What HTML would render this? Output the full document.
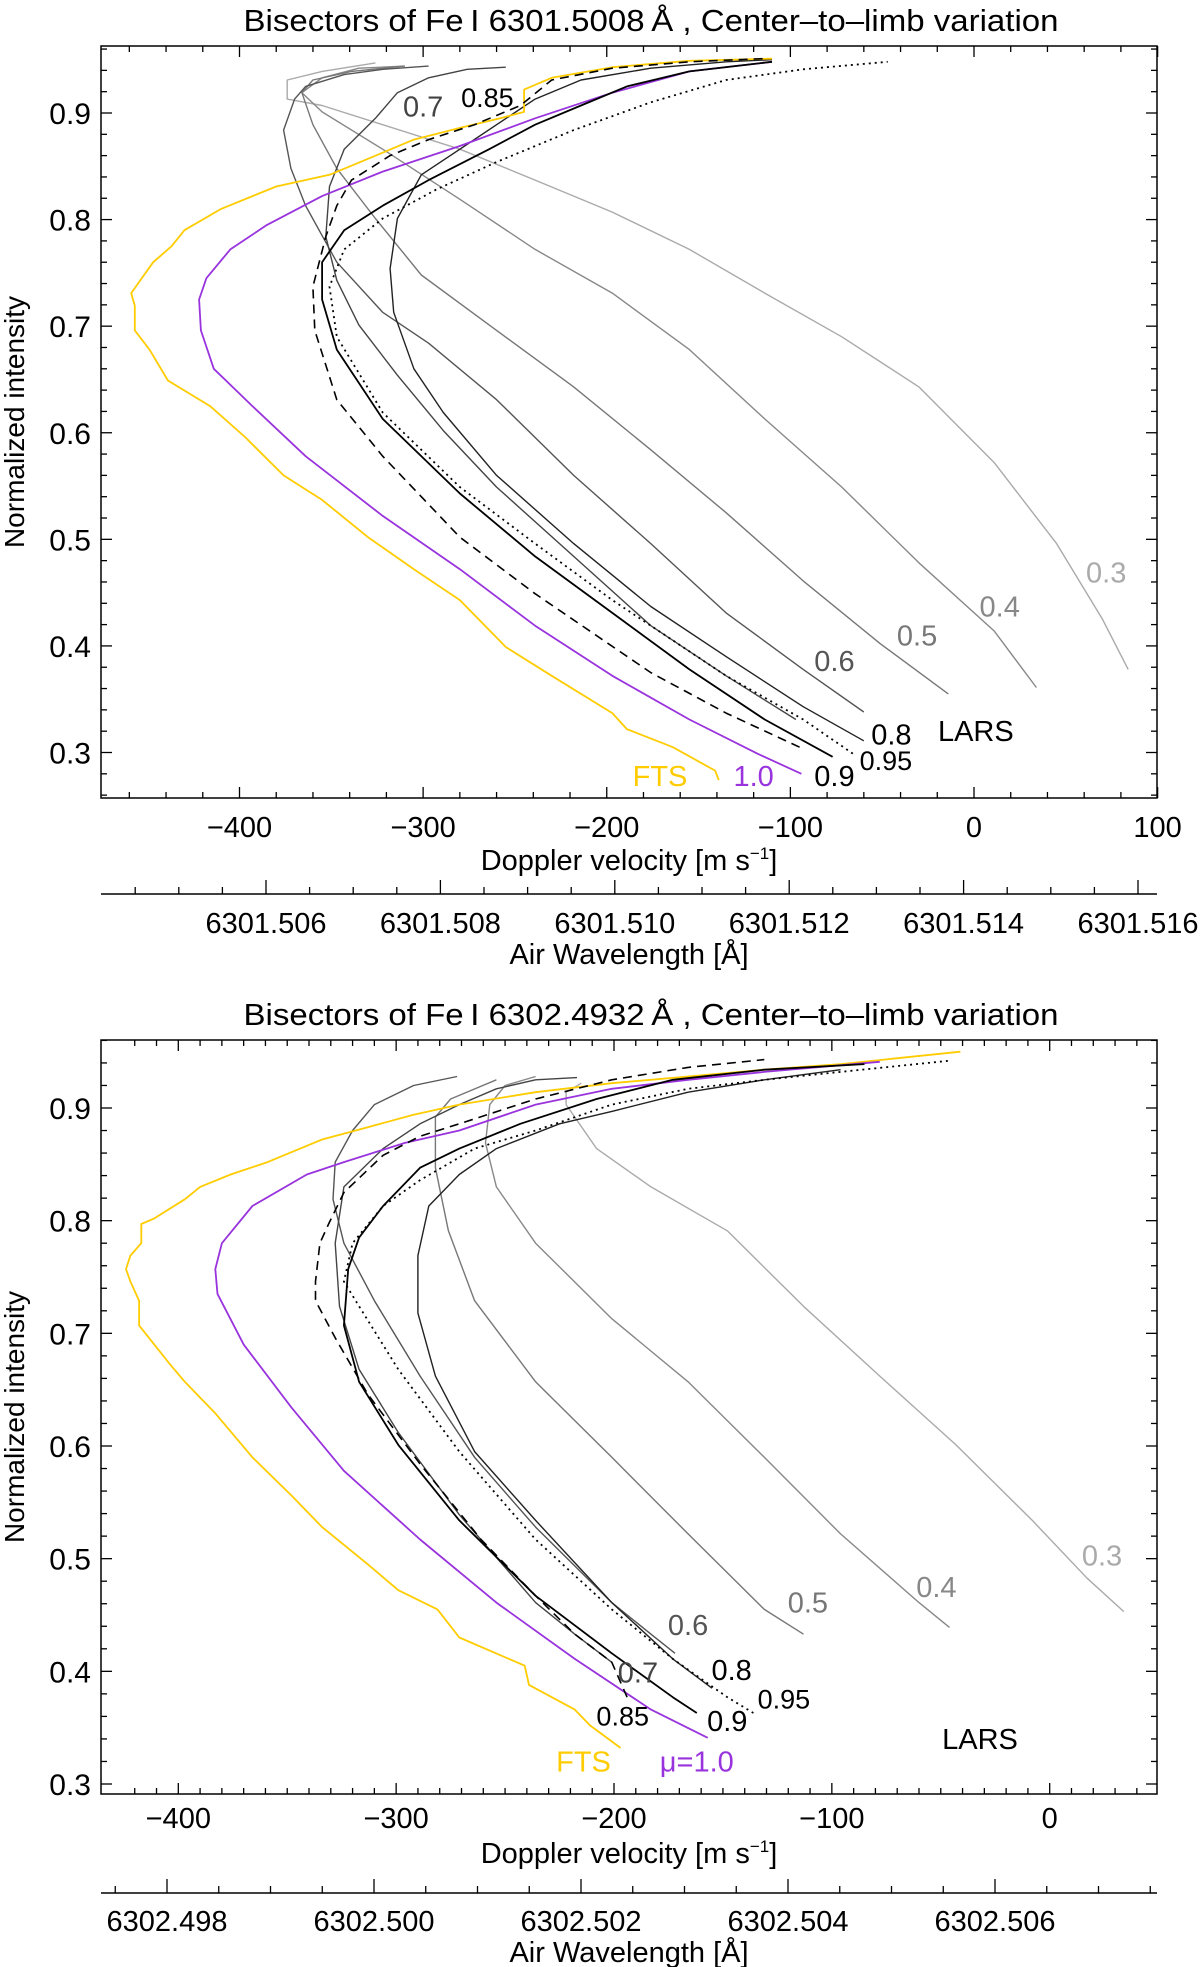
<!DOCTYPE html>
<html><head><meta charset="utf-8"><style>
html,body{margin:0;padding:0;background:#fff;}
svg{display:block;font-family:"Liberation Sans",sans-serif;}
</style></head>
<body>
<svg id="fig" width="1200" height="1967" viewBox="0 0 1200 1967" xmlns="http://www.w3.org/2000/svg"></svg>
<script>
// ===== Panel 1 data (Fe I 6301.5008) : [velocity m/s, normalized intensity]
const top_fts=[[-139,0.274],[-141,0.283],[-164,0.305],[-189,0.322],[-197,0.337],[-230,0.372],[-255,0.399],[-280,0.443],[-305,0.472],[-330,0.502],[-355,0.537],[-376,0.560],[-397,0.596],[-416,0.625],[-439,0.649],[-449,0.678],[-457,0.696],[-457,0.719],[-459,0.731],[-447,0.760],[-437,0.775],[-430,0.790],[-410,0.810],[-380,0.831],[-351,0.842],[-330,0.857],[-305,0.875],[-280,0.886],[-258,0.895],[-245,0.901],[-245,0.922],[-230,0.933],[-197,0.943],[-155,0.949],[-110,0.951]];
const top_mu10=[[-94,0.280],[-118,0.299],[-155,0.331],[-197,0.372],[-239,0.419],[-280,0.472],[-322,0.522],[-364,0.578],[-393,0.625],[-414,0.660],[-421,0.696],[-422,0.725],[-418,0.745],[-405,0.772],[-385,0.795],[-355,0.822],[-322,0.845],[-280,0.869],[-239,0.895],[-197,0.919],[-155,0.939],[-110,0.948]];
const top_mu085=[[-95,0.305],[-135,0.337],[-176,0.375],[-239,0.449],[-280,0.502],[-322,0.578],[-347,0.631],[-359,0.696],[-360,0.737],[-353,0.784],[-347,0.813],[-339,0.837],[-318,0.860],[-297,0.875],[-272,0.889],[-247,0.907],[-230,0.931],[-197,0.942],[-155,0.948],[-114,0.951]];
const top_mu09=[[-77,0.296],[-114,0.331],[-155,0.378],[-197,0.431],[-239,0.484],[-280,0.543],[-322,0.613],[-347,0.678],[-355,0.725],[-355,0.760],[-343,0.790],[-322,0.813],[-297,0.837],[-264,0.866],[-239,0.889],[-214,0.907],[-189,0.925],[-155,0.939],[-110,0.948]];
const top_mu095=[[-66,0.299],[-93,0.331],[-135,0.372],[-197,0.443],[-239,0.496],[-280,0.549],[-322,0.619],[-347,0.690],[-351,0.737],[-343,0.772],[-322,0.801],[-293,0.828],[-260,0.854],[-218,0.884],[-176,0.910],[-135,0.931],[-93,0.941],[-47,0.948]];
const top_mu08=[[-60,0.311],[-93,0.343],[-135,0.390],[-176,0.437],[-218,0.496],[-260,0.560],[-289,0.619],[-305,0.660],[-316,0.713],[-318,0.754],[-314,0.801],[-301,0.842],[-280,0.866],[-260,0.889],[-239,0.913],[-214,0.931],[-176,0.942],[-135,0.948],[-110,0.950]];
const top_mu07=[[-97,0.331],[-135,0.372],[-176,0.419],[-218,0.484],[-260,0.549],[-289,0.602],[-314,0.654],[-335,0.701],[-347,0.743],[-353,0.784],[-351,0.831],[-343,0.866],[-326,0.895],[-314,0.919],[-297,0.933],[-276,0.941],[-255,0.943]];
const top_mu06=[[-60,0.338],[-93,0.378],[-135,0.431],[-176,0.496],[-218,0.560],[-260,0.631],[-297,0.684],[-322,0.713],[-347,0.760],[-364,0.813],[-372,0.848],[-376,0.884],[-370,0.913],[-364,0.925],[-343,0.936],[-322,0.941],[-297,0.944]];
const top_mu05=[[-14,0.355],[-51,0.402],[-93,0.461],[-135,0.525],[-176,0.584],[-218,0.643],[-260,0.696],[-301,0.748],[-326,0.801],[-347,0.848],[-360,0.889],[-366,0.919],[-360,0.931],[-339,0.939],[-310,0.944]];
const top_mu04=[[34,0.361],[11,0.414],[-30,0.478],[-72,0.549],[-114,0.613],[-155,0.678],[-197,0.731],[-239,0.772],[-280,0.819],[-322,0.866],[-355,0.901],[-366,0.919],[-355,0.933],[-335,0.942],[-310,0.944]];
const top_mu03=[[84,0.378],[70,0.425],[45,0.496],[11,0.572],[-30,0.643],[-72,0.690],[-114,0.731],[-155,0.772],[-197,0.807],[-239,0.837],[-280,0.866],[-322,0.889],[-355,0.907],[-374,0.913],[-374,0.931],[-355,0.939],[-326,0.947]];
const top_labels=[["0.7",-300,0.906],["0.85",-265,0.915],["0.3",72,0.469],["0.4",14,0.437],["0.5",-31,0.410],["0.6",-76,0.386],["0.8",-45,0.317],["LARS",1,0.320],["0.95",-48,0.293],["0.9",-76,0.278],["1.0",-120,0.278],["FTS",-171,0.278]];
const top_vticks=[-400,-300,-200,-100,0,100];
const top_yticks=[0.3,0.4,0.5,0.6,0.7,0.8,0.9];
const top_wl_labels=["6301.506","6301.508","6301.510","6301.512","6301.514","6301.516"];

// ===== Panel 2 data (Fe I 6302.4932)
const bot_fts=[[-197,0.332],[-211,0.352],[-218,0.366],[-239,0.388],[-241,0.405],[-271,0.430],[-281,0.455],[-299,0.472],[-313,0.495],[-334,0.528],[-348,0.556],[-366,0.590],[-383,0.629],[-397,0.657],[-404,0.673],[-411,0.690],[-418,0.707],[-418,0.729],[-422,0.746],[-424,0.757],[-422,0.769],[-417,0.780],[-417,0.797],[-411,0.802],[-397,0.819],[-390,0.830],[-376,0.841],[-359,0.852],[-334,0.872],[-313,0.883],[-292,0.894],[-271,0.903],[-236,0.914],[-201,0.922],[-166,0.928],[-131,0.934],[-96,0.939],[-41,0.950]];
const bot_mu10=[[-157,0.341],[-183,0.366],[-218,0.411],[-254,0.461],[-289,0.517],[-324,0.578],[-348,0.634],[-370,0.690],[-382,0.735],[-383,0.757],[-380,0.780],[-366,0.813],[-341,0.841],[-324,0.852],[-296,0.869],[-271,0.880],[-236,0.903],[-201,0.917],[-166,0.925],[-131,0.932],[-78,0.941]];
const bot_mu085=[[-194,0.377],[-201,0.408],[-218,0.433],[-236,0.467],[-261,0.517],[-289,0.584],[-313,0.646],[-328,0.696],[-337,0.729],[-337,0.746],[-335,0.780],[-331,0.797],[-324,0.825],[-306,0.858],[-289,0.875],[-271,0.886],[-236,0.908],[-201,0.925],[-166,0.936],[-131,0.943]];
const bot_mu09=[[-162,0.363],[-173,0.377],[-201,0.416],[-236,0.467],[-271,0.534],[-299,0.601],[-317,0.657],[-324,0.707],[-322,0.757],[-317,0.785],[-306,0.813],[-289,0.847],[-271,0.864],[-243,0.886],[-208,0.908],[-173,0.925],[-131,0.934],[-85,0.939]];
const bot_mu095=[[-136,0.363],[-148,0.377],[-173,0.411],[-201,0.455],[-236,0.517],[-271,0.595],[-299,0.668],[-317,0.724],[-324,0.746],[-320,0.780],[-306,0.813],[-289,0.836],[-264,0.864],[-236,0.880],[-201,0.903],[-166,0.917],[-131,0.925],[-96,0.932],[-46,0.942]];
const bot_mu08=[[-155,0.385],[-173,0.411],[-201,0.461],[-236,0.534],[-264,0.595],[-282,0.662],[-290,0.718],[-290,0.769],[-285,0.813],[-271,0.841],[-254,0.864],[-225,0.886],[-201,0.897],[-166,0.914],[-131,0.925],[-96,0.934]];
const bot_mu07=[[-201,0.408],[-218,0.433],[-236,0.461],[-271,0.539],[-299,0.612],[-317,0.668],[-326,0.724],[-328,0.780],[-324,0.830],[-306,0.864],[-289,0.886],[-271,0.903],[-254,0.917],[-236,0.925],[-217,0.927]];
const bot_mu06=[[-172,0.416],[-183,0.433],[-201,0.461],[-236,0.528],[-264,0.590],[-289,0.662],[-310,0.729],[-324,0.780],[-329,0.819],[-328,0.852],[-320,0.880],[-310,0.903],[-292,0.920],[-272,0.928]];
const bot_mu05=[[-113,0.433],[-131,0.455],[-166,0.522],[-201,0.590],[-236,0.657],[-264,0.729],[-276,0.791],[-282,0.847],[-282,0.892],[-275,0.908],[-254,0.925]];
const bot_mu04=[[-46,0.439],[-60,0.461],[-96,0.522],[-131,0.590],[-166,0.657],[-201,0.713],[-236,0.780],[-254,0.830],[-259,0.869],[-257,0.903],[-250,0.920],[-236,0.928]];
const bot_mu03=[[34,0.453],[17,0.483],[-8,0.534],[-43,0.601],[-78,0.662],[-113,0.724],[-148,0.791],[-183,0.830],[-208,0.864],[-222,0.903],[-222,0.914],[-215,0.922]];
const bot_labels=[["0.3",24,0.503],["0.4",-52,0.475],["0.5",-111,0.461],["0.6",-166,0.441],["0.8",-146,0.401],["0.7",-189,0.399],["0.95",-122,0.376],["0.85",-196,0.361],["0.9",-148,0.356],["LARS",-32,0.340],["FTS",-214,0.320],["μ=1.0",-162,0.320]];
const bot_vticks=[-400,-300,-200,-100,0];
const bot_yticks=[0.3,0.4,0.5,0.6,0.7,0.8,0.9];
const bot_wl_labels=["6302.498","6302.500","6302.502","6302.504","6302.506"];

const NS="http://www.w3.org/2000/svg";
const svg=document.getElementById('fig');
function mk(tag,attrs,parent){const e=document.createElementNS(NS,tag);for(const k in attrs)e.setAttribute(k,attrs[k]);(parent||svg).appendChild(e);return e;}

const styleMap={
 fts:{c:"#ffcc00",d:null,w:1.8},mu10:{c:"#9933dd",d:null,w:1.8},mu085:{c:"#000",d:"9,6",w:1.6},
 mu09:{c:"#000",d:null,w:1.8},mu095:{c:"#000",d:"2,4",w:1.8},mu08:{c:"#222",d:null,w:1.4},
 mu07:{c:"#444",d:null,w:1.4},mu06:{c:"#555",d:null,w:1.4},mu05:{c:"#777",d:null,w:1.4},
 mu04:{c:"#888",d:null,w:1.4},mu03:{c:"#aaa",d:null,w:1.4}};
const labelColor={"0.3":"#aaa","0.4":"#888","0.5":"#777","0.6":"#555","0.7":"#444","FTS":"#ffcc00","1.0":"#9933dd","μ=1.0":"#9933dd"};

function panel(cfg){
 const g=mk('g',{});
 
 
 const X=v=>cfg.x0+(v-cfg.vA)*(cfg.x1-cfg.x0)/(cfg.vB-cfg.vA);
 const Y=i=>cfg.y0+(i-cfg.iA)*(cfg.y1-cfg.y0)/(cfg.iB-cfg.iA);
 const L=cfg.L,R=cfg.R,T=cfg.T,B=cfg.B;
 const t=mk('text',{x:651,y:cfg.titleY,'text-anchor':'middle','font-size':31,textLength:815,lengthAdjust:'spacingAndGlyphs'},g);
 
 
 t.textContent=cfg.title;
 const cg=mk('g',{},g);
 for(const [key,arr] of cfg.series){
   const s=styleMap[key];
   const d=arr.map((p,k)=>(k?'L':'M')+X(p[0]).toFixed(1)+','+Y(p[1]).toFixed(1)).join('');
   const p=mk('path',{d:d,fill:'none',stroke:s.c,'stroke-width':s.w,'stroke-linejoin':'round'},cg);
   if(s.d)p.setAttribute('stroke-dasharray',s.d);
   
   
 }
 const fr=mk('rect',{x:L,y:T,width:R-L,height:B-T,fill:'none',stroke:'#000','stroke-width':1.5},g);
 
 
 for(let v=Math.ceil(cfg.vmin/cfg.vminor)*cfg.vminor;v<=cfg.vmax;v+=cfg.vminor){
   const x=X(v);const maj=Math.abs(v%100)<1e-6;const len=maj?11:6;
   mk('line',{x1:x,x2:x,y1:B,y2:B-len,stroke:'#000','stroke-width':1.3},g);
   mk('line',{x1:x,x2:x,y1:T,y2:T+len,stroke:'#000','stroke-width':1.3},g);
 }
 for(const v of cfg.vticks){
   const tx=mk('text',{x:X(v),y:cfg.vlabY,'text-anchor':'middle','font-size':29},g);
   
   
   tx.textContent=(v<0?'\u2212':'')+Math.abs(v);
 }
 for(let k=Math.ceil(cfg.imin/0.02);k*0.02<=cfg.imax;k++){
   const i=k*0.02;const y=Y(i);const maj=(k%5===0);const len=maj?11:6;
   mk('line',{x1:L,x2:L+len,y1:y,y2:y,stroke:'#000','stroke-width':1.3},g);
   mk('line',{x1:R,x2:R-len,y1:y,y2:y,stroke:'#000','stroke-width':1.3},g);
 }
 for(const i of cfg.yticks){
   const ty=mk('text',{x:91,y:Y(i)+11,'text-anchor':'end','font-size':30},g);
   
   
   ty.textContent=i.toFixed(1);
 }
 const yt=mk('text',{x:0,y:0,'text-anchor':'middle','font-size':28,transform:'translate(24,'+((T+B)/2)+') rotate(-90)'},g);
 
 
 yt.textContent='Normalized intensity';
 const xt=mk('text',{x:(L+R)/2,y:cfg.vtitleY,'text-anchor':'middle','font-size':29},g);
 
 
 xt.innerHTML='Doppler velocity [m s<tspan font-size="17" dy="-11">\u22121</tspan><tspan dy="11">]</tspan>';
 const wl=mk('line',{x1:L,x2:R,y1:cfg.wlY,y2:cfg.wlY,stroke:'#000','stroke-width':1.5},g);
 
 
 const step=cfg.wlStep/4;
 for(let x=cfg.wlFirst-Math.floor((cfg.wlFirst-L)/step)*step;x<=R;x+=step){
   const maj=Math.abs(((x-cfg.wlFirst)/cfg.wlStep)-Math.round((x-cfg.wlFirst)/cfg.wlStep))<0.01;
   mk('line',{x1:x,x2:x,y1:cfg.wlY,y2:cfg.wlY-(maj?14:7),stroke:'#000','stroke-width':1.3},g);
 }
 cfg.wlLabels.forEach((s,k)=>{
   const w=mk('text',{x:cfg.wlFirst+k*cfg.wlStep,y:cfg.wlLabY,'text-anchor':'middle','font-size':29},g);
   
   
   w.textContent=s;
 });
 const wt=mk('text',{x:(L+R)/2,y:cfg.wlTitleY,'text-anchor':'middle','font-size':29},g);
 
 
 wt.textContent='Air Wavelength [Å]';
 for(const [s,v,i] of cfg.labels){
   const small=(s==="0.85"||s==="0.95");
   const lab=mk('text',{x:X(v),y:Y(i)+10,'text-anchor':'middle','font-size':small?27:29,fill:labelColor[s]||'#000'},g);
   
   
   lab.textContent=s;
 }
}

panel({name:'panel-6301',title:'Bisectors of Fe\u2009I 6301.5008\u2009Å , Center\u2013to\u2013limb variation',titleY:31,
 L:101,R:1157,T:46,B:798,x0:239.5,x1:974,vA:-400,vB:0,y0:752.5,y1:113,iA:0.3,iB:0.9,
 vmin:-477,vmax:100,vminor:20,imin:0.258,imax:0.962,vticks:top_vticks,yticks:top_yticks,vlabY:837,vtitleY:870,
 wlY:894,wlFirst:266,wlStep:174.4,wlLabels:top_wl_labels,wlLabY:933,wlTitleY:964,labels:top_labels,
 series:[["mu03",top_mu03],["mu04",top_mu04],["mu05",top_mu05],["mu06",top_mu06],["mu07",top_mu07],["mu08",top_mu08],["fts",top_fts],["mu10",top_mu10],["mu085",top_mu085],["mu095",top_mu095],["mu09",top_mu09]]});

panel({name:'panel-6302',title:'Bisectors of Fe\u2009I 6302.4932\u2009Å , Center\u2013to\u2013limb variation',titleY:1025,
 L:101,R:1157,T:1040,B:1794,x0:178.3,x1:1049.7,vA:-400,vB:0,y0:1784,y1:1108,iA:0.3,iB:0.9,
 vmin:-426,vmax:48,vminor:10,imin:0.292,imax:0.96,vticks:bot_vticks,yticks:bot_yticks,vlabY:1828,vtitleY:1863,
 wlY:1893,wlFirst:167,wlStep:207,wlLabels:bot_wl_labels,wlLabY:1931,wlTitleY:1962,labels:bot_labels,
 series:[["mu03",bot_mu03],["mu04",bot_mu04],["mu05",bot_mu05],["mu06",bot_mu06],["mu07",bot_mu07],["mu08",bot_mu08],["fts",bot_fts],["mu10",bot_mu10],["mu085",bot_mu085],["mu095",bot_mu095],["mu09",bot_mu09]]});
</script>
</body></html>
